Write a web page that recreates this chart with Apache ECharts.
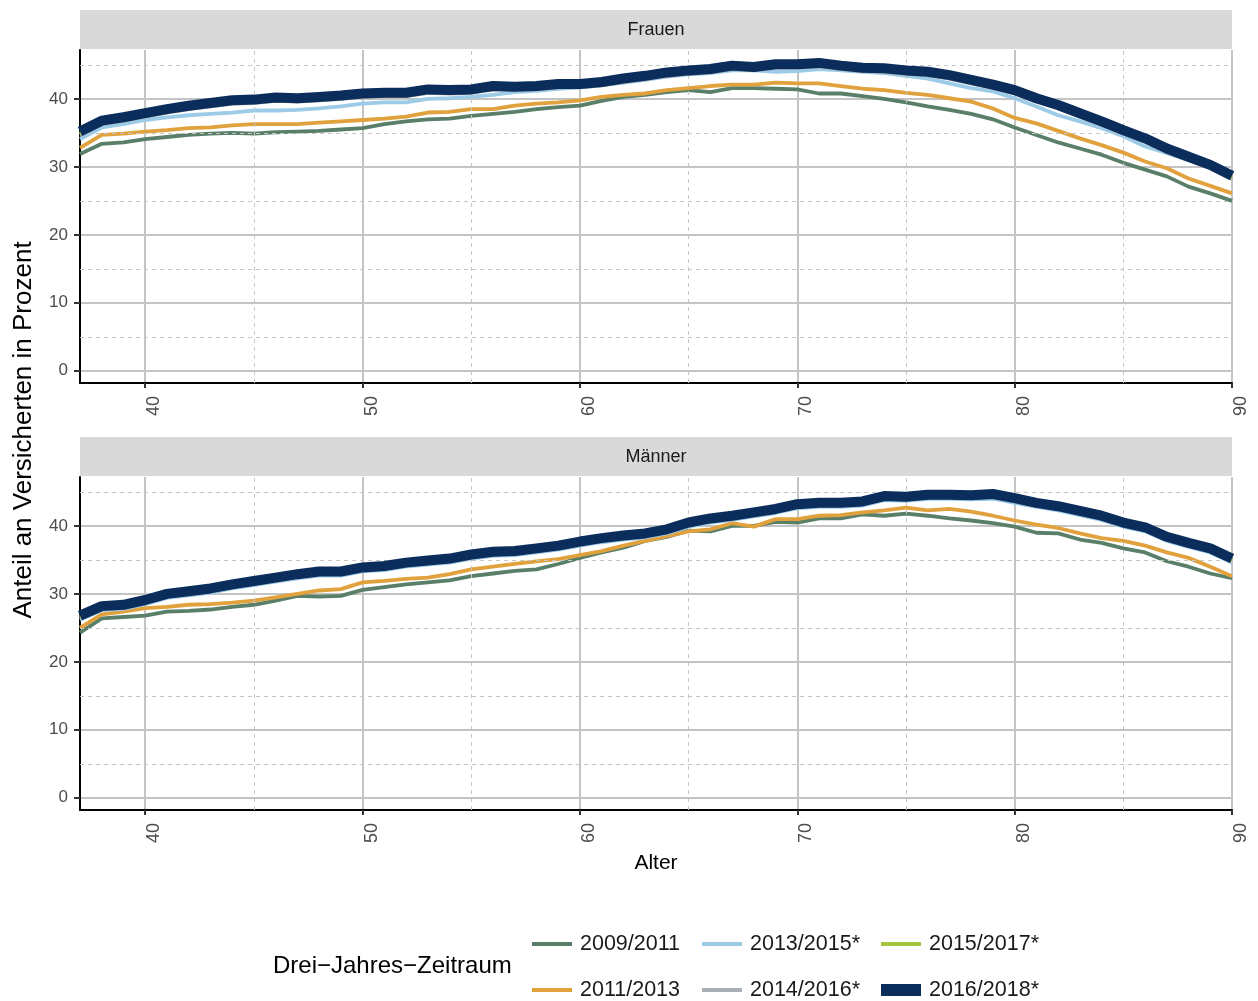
<!DOCTYPE html>
<html>
<head>
<meta charset="utf-8">
<script src="https://cdn.jsdelivr.net/npm/echarts@6/dist/echarts.min.js"></script>
<style>html,body{margin:0;padding:0;background:#fff;}#c{width:1258px;height:1001px;}</style>
</head>
<body>
<div id="c"></div>
<script>
const ages = [37,38,39,40,41,42,43,44,45,46,47,48,49,50,51,52,53,54,55,56,57,58,59,60,61,62,63,64,65,66,67,68,69,70,71,72,73,74,75,76,77,78,79,80,81,82,83,84,85,86,87,88,89,90];
const seriesNames = ['2009/2011','2011/2013','2013/2015*','2014/2016*','2015/2017*','2016/2018*'];
const panelTitles = ['Frauen','Männer'];
const xTicks = [40,50,60,70,80,90];
const yTicks = [0,10,20,30,40];
const xMinor = [45,55,65,75,85];
const yMinor = [5,15,25,35,45];

// Frauen
const f_2009_2011 = [31.9,33.4,33.6,34.1,34.4,34.7,34.9,35.0,34.9,35.1, 35.2,35.3,35.5,35.7,36.3,36.7,37.0,37.1,37.5,37.8, 38.1,38.5,38.8,39.0,39.7,40.3,40.6,41.0,41.3,41.0, 41.6,41.6,41.5,41.4,40.8,40.8,40.4,40.0,39.5,38.9, 38.4,37.8,37.0,35.8,34.7,33.6,32.7,31.8,30.6,29.6, 28.6,27.1,26.1,25.0];
const f_2011_2013 = [32.8,34.7,34.9,35.2,35.4,35.7,35.8,36.1,36.3,36.3, 36.3,36.5,36.7,36.9,37.1,37.4,38.0,38.1,38.5,38.5, 39.0,39.3,39.5,39.8,40.3,40.6,40.8,41.3,41.6,41.9, 42.1,42.1,42.4,42.3,42.3,41.9,41.5,41.3,40.9,40.6, 40.1,39.6,38.6,37.2,36.4,35.3,34.2,33.2,32.1,30.8, 29.8,28.3,27.2,26.1];
const f_2013_2015 = [34.1,35.8,36.3,36.9,37.3,37.6,37.8,38.0,38.3,38.3, 38.4,38.6,38.9,39.3,39.5,39.5,40.0,40.1,40.3,40.6, 41.0,41.2,41.5,41.7,42.0,42.4,42.8,43.3,43.6,43.8, 44.2,44.2,44.0,44.1,44.4,44.2,44.0,43.8,43.4,43.0, 42.3,41.6,41.1,40.1,38.9,37.6,36.7,35.7,34.5,33.0, 32.0,31.0,30.0,29.1];
const f_2014_2016 = [34.7,36.3,36.8,37.4,38.0,38.5,38.9,39.3,39.4,39.7, 39.6,39.8,40.0,40.3,40.4,40.4,40.9,40.8,40.9,41.4, 41.3,41.4,41.7,41.7,42.0,42.5,42.9,43.4,43.7,43.9, 44.4,44.2,44.6,44.6,44.8,44.4,44.1,44.0,43.7,43.5, 43.0,42.3,41.6,40.8,39.6,38.6,37.4,36.2,34.9,33.7, 32.2,31.0,29.8,28.2];
const f_2015_2017 = [34.9,36.5,37.0,37.6,38.2,38.7,39.1,39.5,39.6,39.9, 39.8,40.0,40.2,40.5,40.6,40.6,41.1,41.0,41.1,41.6, 41.5,41.6,41.9,41.9,42.2,42.7,43.1,43.6,43.9,44.1, 44.6,44.4,44.8,44.8,44.9,44.5,44.3,44.2,43.9,43.7, 43.2,42.5,41.8,41.0,39.8,38.8,37.6,36.4,35.1,33.9, 32.4,31.2,30.0,28.4];
const f_2016_2018 = [35.2,36.8,37.3,37.9,38.5,39.0,39.4,39.8,39.9,40.2, 40.1,40.3,40.5,40.8,40.9,40.9,41.4,41.3,41.4,41.9, 41.8,41.9,42.2,42.2,42.5,43.0,43.4,43.9,44.2,44.4, 44.9,44.7,45.1,45.1,45.3,44.9,44.6,44.5,44.2,44.0, 43.5,42.8,42.1,41.3,40.1,39.1,37.9,36.7,35.4,34.2, 32.7,31.5,30.3,28.7];

// Männer
const m_2009_2011 = [24.3,26.4,26.6,26.8,27.4,27.5,27.7,28.1,28.4,29.0, 29.7,29.6,29.7,30.6,31.0,31.4,31.7,32.0,32.6,33.0, 33.4,33.6,34.4,35.3,36.1,36.8,37.8,38.4,39.3,39.2, 40.0,40.0,40.6,40.5,41.1,41.1,41.7,41.5,41.8,41.5, 41.1,40.8,40.4,39.9,39.0,38.9,38.0,37.5,36.7,36.1, 34.8,34.0,33.0,32.3];
const m_2011_2013 = [25.0,27.0,27.4,27.9,28.1,28.4,28.5,28.7,29.0,29.5, 30.0,30.5,30.7,31.7,31.9,32.2,32.4,32.9,33.6,34.0, 34.4,34.8,35.1,35.7,36.3,37.1,37.8,38.5,39.2,39.5, 40.4,39.9,41.0,41.0,41.5,41.6,42.0,42.3,42.7,42.3, 42.5,42.1,41.5,40.8,40.2,39.7,38.9,38.2,37.8,37.1, 36.1,35.3,34.0,32.6];
const m_2013_2015 = [26.2,27.6,27.8,28.5,29.4,29.8,30.2,30.8,31.3,31.8, 32.3,32.7,32.7,33.3,33.5,34.0,34.3,34.6,35.2,35.6, 35.7,36.1,36.5,37.1,37.6,38.0,38.3,38.9,39.9,40.5, 40.9,41.4,41.9,42.6,42.8,42.8,43.0,43.8,43.7,44.0, 44.0,43.9,44.0,43.4,42.8,42.3,41.6,40.9,39.9,39.2, 37.8,36.9,36.1,34.6];
const m_2014_2016 = [26.4,27.8,28.0,28.7,29.6,30.0,30.4,31.0,31.5,32.0, 32.5,32.9,32.9,33.5,33.7,34.2,34.5,34.8,35.4,35.8, 35.9,36.3,36.7,37.3,37.8,38.2,38.5,39.1,40.1,40.7, 41.1,41.6,42.1,42.8,43.0,43.0,43.2,44.0,43.9,44.2, 44.2,44.1,44.3,43.7,43.0,42.5,41.8,41.1,40.1,39.4, 38.0,37.1,36.3,34.8];
const m_2015_2017 = [26.6,28.0,28.2,28.9,29.8,30.2,30.6,31.2,31.7,32.2, 32.7,33.1,33.1,33.7,33.9,34.4,34.7,35.0,35.6,36.0, 36.1,36.5,36.9,37.5,38.0,38.4,38.7,39.3,40.3,40.9, 41.3,41.8,42.3,43.0,43.2,43.2,43.4,44.2,44.1,44.4, 44.4,44.3,44.5,43.9,43.2,42.7,42.0,41.3,40.3,39.6, 38.2,37.3,36.5,35.0];
const m_2016_2018 = [26.8,28.2,28.4,29.1,30.0,30.4,30.8,31.4,31.9,32.4, 32.9,33.3,33.3,33.9,34.1,34.6,34.9,35.2,35.8,36.2, 36.3,36.7,37.1,37.7,38.2,38.6,38.9,39.5,40.5,41.1, 41.5,42.0,42.5,43.2,43.4,43.4,43.6,44.4,44.3,44.6, 44.6,44.5,44.7,44.1,43.4,42.9,42.2,41.5,40.5,39.8, 38.4,37.5,36.7,35.2];

const panels = [
  [f_2009_2011, f_2011_2013, f_2013_2015, f_2014_2016, f_2015_2017, f_2016_2018],
  [m_2009_2011, m_2011_2013, m_2013_2015, m_2014_2016, m_2015_2017, m_2016_2018]
];

const colors = ['#5a7f69','#e1a23d','#9ccbe8','#a9afb4','#a6c43b','#0b2d5b'];
const widths = [3.8,3.8,3.8,3.8,3.8,10];
const FONT = 'Liberation Sans, Arial, sans-serif';

const chart = echarts.init(document.getElementById('c'), null, {renderer:'canvas'});

const gridTops = [50, 477];
const gridH = 333;
const grids = gridTops.map(t => ({left:80, right:26, top:t, height:gridH}));

const xAxes = gridTops.map((t,i) => ({
  type:'value', gridIndex:i, min:37, max:90,
  axisLine:{show:true, onZero:false, lineStyle:{color:'#000', width:2}},
  axisTick:{show:true, length:5, customValues:xTicks, lineStyle:{color:'#333', width:2}},
  axisLabel:{show:true, customValues:xTicks, rotate:90, margin:13, fontSize:18, color:'#4d4d4d', fontFamily:FONT, verticalAlign:'top'},
  splitLine:{show:true, lineStyle:{color:'#c4c4c4', width:2}},
  minorSplitLine:{show:false}
}));
const yAxes = gridTops.map((t,i) => ({
  type:'value', gridIndex:i, min:-1.8, max:47.2,
  axisLine:{show:true, onZero:false, lineStyle:{color:'#000', width:2}},
  axisTick:{show:true, length:6, customValues:yTicks, lineStyle:{color:'#333', width:2}},
  axisLabel:{show:true, customValues:yTicks, margin:12, fontSize:17, color:'#4d4d4d', fontFamily:FONT},
  splitLine:{show:true, lineStyle:{color:'#c4c4c4', width:2}}
}));

const series = [];
gridTops.forEach((t,gi) => {
  series.push({
    type:'line', xAxisIndex:gi, yAxisIndex:gi, data:[], silent:true, z:1,
    markLine:{silent:true, symbol:'none', animation:false, label:{show:false},
      lineStyle:{type:[4,4], color:'#c6c6c6', width:1},
      data: xMinor.map(v => ({xAxis:v})).concat(yMinor.map(v => ({yAxis:v})))}
  });
  panels[gi].forEach((vals, si) => {
    series.push({
      name: seriesNames[si], type:'line', xAxisIndex:gi, yAxisIndex:gi,
      data: ages.map((a,k) => [a, vals[k]]),
      showSymbol:false, symbol:'none', smooth:false, z:2+si,
      lineStyle:{color:colors[si], width:widths[si], join:'round'},
      itemStyle:{color:colors[si]}, animation:false
    });
  });
});

// legend: column-major, 3 columns x 2 rows, one legend component per item
const legendLefts = [527, 697, 876];
const legendRowTops = [928, 974];
const legends = seriesNames.map((name, i) => ({
  data: [{name: name, icon: 'rect'}],
  orient: 'horizontal',
  left: legendLefts[Math.floor(i / 2)],
  top: legendRowTops[i % 2],
  itemWidth: 40,
  itemHeight: i === 5 ? 12 : 4,
  selectedMode: false,
  textStyle: {fontSize: 21.5, lineHeight: 22, color: '#1a1a1a', fontFamily: FONT, padding: [0, 0, 0, 3]}
}));

const graphics = [];
gridTops.forEach((t,gi) => {
  graphics.push({type:'rect', left:80, top:t-40, shape:{width:1152, height:39}, style:{fill:'#d9d9d9'}, silent:true});
  graphics.push({type:'text', x:656, y:t-19.5, style:{text:panelTitles[gi], fontSize:18, fill:'#1a1a1a', fontFamily:FONT, textAlign:'center', textVerticalAlign:'middle'}, silent:true});
});
graphics.push({type:'text', x:24, y:430, rotation:Math.PI/2, style:{text:'Anteil an Versicherten in Prozent', fontSize:26, fill:'#000', fontFamily:FONT, textAlign:'center', textVerticalAlign:'middle'}});
graphics.push({type:'text', x:656, y:863, style:{text:'Alter', fontSize:21, fill:'#000', fontFamily:FONT, textAlign:'center', textVerticalAlign:'middle'}});
graphics.push({type:'text', x:273, y:966, style:{text:'Drei\u2212Jahres\u2212Zeitraum', fontSize:24, fill:'#000', fontFamily:FONT, textAlign:'left', textVerticalAlign:'middle'}});

chart.setOption({
  backgroundColor:'#ffffff',
  animation:false,
  grid: grids,
  xAxis: xAxes,
  yAxis: yAxes,
  legend: legends,
  series: series,
  graphic: graphics
});
</script>
</body>
</html>
